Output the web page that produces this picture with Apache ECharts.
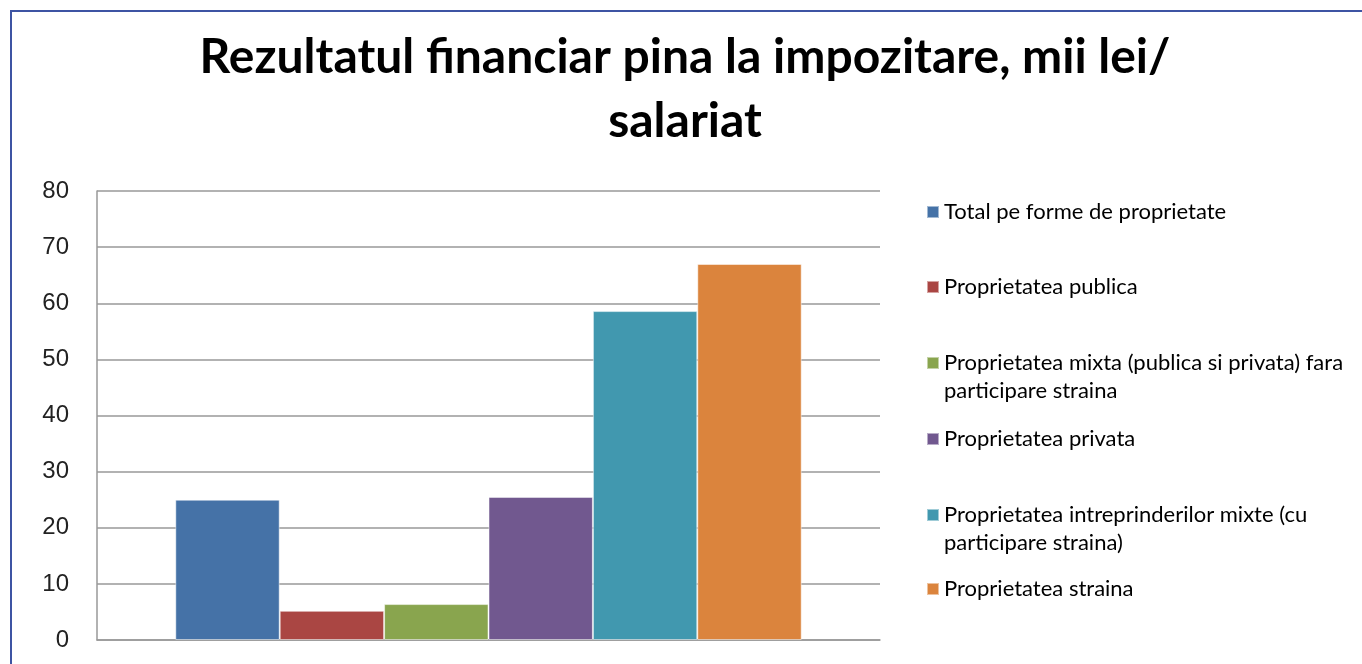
<!DOCTYPE html>
<html>
<head>
<meta charset="utf-8">
<script src="https://cdn.jsdelivr.net/npm/echarts@6/dist/echarts.min.js"></script>
<style>
  html, body { margin: 0; padding: 0; background: #fff; }
  #chart { width: 1362px; height: 664px; }
</style>
</head>
<body>
<div id="chart"></div>
<script>
var titleText = 'Rezultatul financiar pina la impozitare, mii lei/\nsalariat'
var categories = ['']
var seriesNames = [
  'Total pe forme de proprietate',
  'Proprietatea publica',
  'Proprietatea mixta (publica si privata) fara participare straina',
  'Proprietatea privata',
  'Proprietatea intreprinderilor mixte (cu participare straina)',
  'Proprietatea straina'
]
// legend text as wrapped in the picture
var legendLines = [
  ['Total pe forme de proprietate'],
  ['Proprietatea publica'],
  ['Proprietatea mixta (publica si privata) fara', 'participare straina'],
  ['Proprietatea privata'],
  ['Proprietatea intreprinderilor mixte (cu', 'participare straina)'],
  ['Proprietatea straina']
]
var seriesValues = [25.0, 5.2, 6.4, 25.5, 58.6, 67.0]
var colors = ['#4572A7', '#AA4643', '#89A54E', '#71588F', '#4198AF', '#DB843D']
var yTicks = { min: 0, max: 80, interval: 10 }

var chart = echarts.init(document.getElementById('chart'))

var legendCenters = [212, 287, 363, 439, 515, 589]
var legends = seriesNames.map(function (name, i) {
  var lines = legendLines[i]
  // leading blank line keeps the marker level with the first line
  var text = lines.length > 1 ? '\n' + lines.join('\n') : lines[0]
  var h = lines.length > 1 ? 42 : 14
  return {
    orient: 'vertical',
    left: 926,
    top: legendCenters[i] - h,
    padding: 0,
    itemWidth: 12,
    itemHeight: 12,
    icon: 'rect',
    selectedMode: false,
    data: [name],
    formatter: function () { return text },
    textStyle: {
      fontFamily: 'Lato',
      fontSize: 22,
      lineHeight: 28,
      color: '#000'
    }
  }
})

chart.setOption({
  backgroundColor: '#ffffff',
  animation: false,
  title: {
    text: titleText,
    left: 685,
    textAlign: 'center',
    top: 26,
    padding: 0,
    textStyle: {
      fontFamily: 'Lato',
      fontWeight: 'bold',
      fontSize: 48,
      lineHeight: 64,
      color: '#000'
    }
  },
  legend: legends,
  graphic: [{
    type: 'polyline',
    shape: { points: [[11, 664], [11, 11], [1362, 11]] },
    style: { stroke: '#3E54A3', lineWidth: 2, fill: null }
  }],
  grid: {
    left: 97,
    right: 482,
    top: 191,
    bottom: 24,
    containLabel: false
  },
  xAxis: {
    type: 'category',
    data: categories,
    axisLine: { lineStyle: { color: '#999', width: 1.5 } },
    axisTick: { show: false },
    axisLabel: { show: false }
  },
  yAxis: {
    type: 'value',
    min: yTicks.min,
    max: yTicks.max,
    interval: yTicks.interval,
    axisLine: { show: true, lineStyle: { color: '#999', width: 1.5 } },
    axisTick: { show: false },
    axisLabel: {
      margin: 28,
      fontFamily: 'Liberation Sans',
      fontSize: 24,
      color: '#222'
    },
    splitLine: { lineStyle: { color: '#999', width: 1.5 } }
  },
  series: seriesNames.map(function (name, i) {
    return {
      name: name,
      type: 'bar',
      data: [seriesValues[i]],
      barGap: '0%',
      barCategoryGap: '20%',
      itemStyle: {
        color: colors[i],
        borderColor: 'rgba(255,255,255,0.5)',
        borderWidth: 1
      }
    }
  })
})
</script>
</body>
</html>
